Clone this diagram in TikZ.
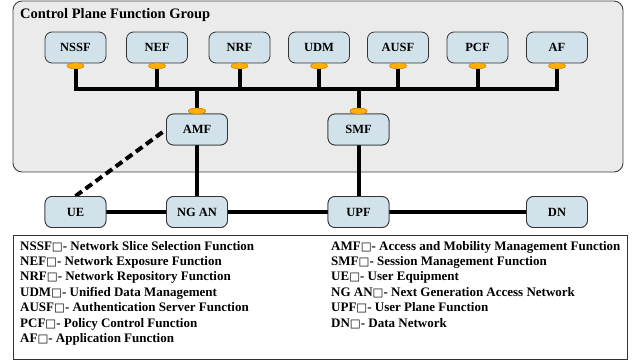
\documentclass[tikz,border=0pt]{standalone}
\usepackage{fontspec}
\setmainfont{Liberation Serif}
\newfontfamily\dvfont{DejaVu Sans}
\usetikzlibrary{shapes.geometric}
\definecolor{groupgray}{HTML}{EBEBEB}
\definecolor{nodeblue}{HTML}{D2E2EA}
\definecolor{portfill}{HTML}{FFB000}
\definecolor{portdraw}{HTML}{D08000}
\newcommand{\sqbox}{{\dvfont\fontsize{11.5}{11.5}\selectfont\mdseries □}}
\tikzset{
  groupbox/.style={draw=black!75, fill=groupgray, rounded corners=9pt, line width=0.9pt, inner sep=0pt},
  nf/.style={draw=black!80, fill=nodeblue, rounded corners=7pt, line width=0.8pt,
    minimum width=61pt, minimum height=31pt, inner sep=0pt,
    font=\bfseries\fontsize{12.5}{12.5}\selectfont},
  port/.style={ellipse, draw=portdraw, fill=portfill, line width=0.5pt,
    minimum width=17pt, minimum height=6pt, inner sep=0pt},
  bus/.style={line width=4pt, black},
  legbox/.style={draw=black!80, line width=0.9pt, inner sep=0pt},
  legtext/.style={anchor=base west, inner sep=0pt, font=\bfseries\fontsize{13}{13}\selectfont}
}
\begin{document}
\begin{tikzpicture}[x=1pt,y=-1pt]
\useasboundingbox (0,0) rectangle (638,362);
% control plane group
\node[groupbox, minimum width=610pt, minimum height=171pt] (grp) at (318,86.5) {};
\node[anchor=west, inner sep=0pt, font=\bfseries\fontsize{14.5}{15}\selectfont] (title) at (20,15) {Control Plane Function Group};
% top NFs
\node[nf] (NSSF) at (75.5,47.5) {NSSF};
\node[nf] (NEF)  at (157,47.5) {NEF};
\node[nf] (NRF)  at (239.5,47.5) {NRF};
\node[nf] (UDM)  at (319,47.5) {UDM};
\node[nf] (AUSF) at (398,47.5) {AUSF};
\node[nf] (PCF)  at (477.5,47.5) {PCF};
\node[nf] (AF)   at (557,47.5) {AF};
\node[nf] (AMF)  at (197,129.5) {AMF};
\node[nf] (SMF)  at (358.5,129.5) {SMF};
% bottom row
\node[nf] (UE)   at (75.5,212) {UE};
\node[nf] (NGAN) at (197,212) {NG AN};
\node[nf] (UPF)  at (358.5,212) {UPF};
\node[nf] (DN)   at (557,212) {DN};
% bus
\coordinate (busy) at (0,89);
\foreach \n in {NSSF,NEF,NRF,UDM,AUSF,PCF,AF}{
  \node[port] (p\n) at ([yshift=-2.5pt]\n.south) {};
}
\node[port] (pAMF) at ([yshift=2.5pt]AMF.north) {};
\node[port] (pSMF) at ([yshift=2.5pt]SMF.north) {};
\draw[bus, line cap=rect] (pNSSF |- busy) -- (pAF |- busy);
\foreach \n in {NSSF,NEF,NRF,UDM,AUSF,PCF,AF}{
  \draw[bus] (p\n.south) -- (p\n |- busy);
}
\draw[bus] (pAMF |- busy) -- (pAMF.north);
\draw[bus] (pSMF |- busy) -- (pSMF.north);
% user plane
\draw[bus] (AMF) -- (NGAN);
\draw[bus] (SMF) -- (UPF);
\draw[bus] (UE) -- (NGAN);
\draw[bus] (NGAN) -- (UPF);
\draw[bus] (UPF) -- (DN);
\draw[bus, dash pattern=on 8pt off 4.5pt] (UE.north) -- (AMF.west);
% redraw nodes on top
\foreach \n/\t in {UE/UE,NGAN/NG AN,UPF/UPF,DN/DN,AMF/AMF,SMF/SMF}{
  \node[nf] at (\n) {\t};
}
\node[port] at (pAMF) {};
\node[port] at (pSMF) {};
% legend
\node[legbox, minimum width=614pt, minimum height=124pt] (leg) at (320.5,297.5) {};
\node[legtext] (l1) at (20,250) {NSSF\sqbox- Network Slice Selection Function};
\node[legtext] (l2) at (20,265.4) {NEF\sqbox- Network Exposure Function};
\node[legtext] (l3) at (20,280.8) {NRF\sqbox- Network Repository Function};
\node[legtext] (l4) at (20,296.2) {UDM\sqbox- Unified Data Management};
\node[legtext] (l5) at (20,311.6) {AUSF\sqbox- Authentication Server Function};
\node[legtext] (l6) at (20,327) {PCF\sqbox- Policy Control Function};
\node[legtext] (l7) at (20,342.4) {AF\sqbox- Application Function};
\node[legtext] (r1) at (331,250) {AMF\sqbox- Access and Mobility Management Function};
\node[legtext] (r2) at (331,265.4) {SMF\sqbox- Session Management Function};
\node[legtext] (r3) at (331,280.8) {UE\sqbox- User Equipment};
\node[legtext] (r4) at (331,296.2) {NG AN\sqbox- Next Generation Access Network};
\node[legtext] (r5) at (331,311.6) {UPF\sqbox- User Plane Function};
\node[legtext] (r6) at (331,327) {DN\sqbox- Data Network};
\end{tikzpicture}
\end{document}
